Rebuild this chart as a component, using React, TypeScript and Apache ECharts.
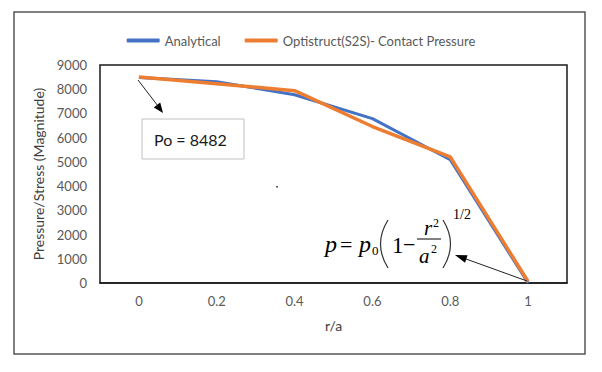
import React, { useEffect, useRef } from "react";
import * as echarts from "echarts";

const categories = ["0", "0.2", "0.4", "0.6", "0.8", "1"];
const analytical = [8482, 8311, 7774, 6786, 5089, 0];
const optistruct = [8500, 8230, 7940, 6460, 5210, 60];
const seriesNames = ["Analytical", "Optistruct(S2S)- Contact Pressure"];
const yTicks = { min: 0, max: 9000, interval: 1000 };
const poLabel = "Po = 8482";

const FONT = "Lato";
const SERIF = "Liberation Serif";

export default function App() {
  const ref = useRef<HTMLDivElement>(null);
  useEffect(() => {
    if (!ref.current) return;
    const chart = echarts.init(ref.current, null, { renderer: "svg" });
    const ink = "#000";
    const fx = (t: string, x: number, y: number, size: number, italic = true) => ({
      type: "text",
      x,
      y,
      style: {
        text: t,
        fontFamily: SERIF,
        fontSize: size,
        fontStyle: italic ? "italic" : "normal",
        fill: ink,
        align: "left",
        verticalAlign: "middle",
      },
      z: 100,
    });
    chart.setOption({
      animation: false,
      backgroundColor: "#fff",
      color: ["#4472C4", "#ED7D31"],
      legend: {
        data: seriesNames,
        top: 29,
        left: "center",
        itemWidth: 33,
        itemHeight: 4,
        itemGap: 24,
        icon: "roundRect",
        textStyle: { fontFamily: FONT, fontSize: 13, color: "#595959" },
      },
      grid: {
        left: 100,
        top: 65,
        right: 35,
        bottom: 89,
        show: true,
        borderColor: "#1a1a1a",
        borderWidth: 1.5,
        containLabel: false,
      },
      xAxis: {
        type: "category",
        data: categories,
        boundaryGap: true,
        name: "r/a",
        nameLocation: "middle",
        nameGap: 35,
        nameTextStyle: { fontFamily: FONT, fontSize: 14, color: "#404040" },
        axisLine: { show: true, lineStyle: { color: "#1a1a1a", width: 1.5 } },
        axisTick: { show: false },
        axisLabel: { fontFamily: FONT, fontSize: 13, color: "#595959", margin: 11 },
        splitLine: { show: false },
      },
      yAxis: {
        type: "value",
        min: yTicks.min,
        max: yTicks.max,
        interval: yTicks.interval,
        name: "Pressure/Stress (Magnitude)",
        nameLocation: "middle",
        nameGap: 54,
        nameTextStyle: { fontFamily: FONT, fontSize: 14, color: "#404040" },
        axisLine: { show: false },
        axisTick: { show: false },
        axisLabel: {
          fontFamily: FONT,
          fontSize: 13,
          color: "#595959",
          margin: 13,
          formatter: (v: number) => String(v),
        },
        splitLine: { show: false },
      },
      series: [
        {
          name: seriesNames[0],
          type: "line",
          data: analytical,
          showSymbol: false,
          symbol: "none",
          lineStyle: { width: 3, color: "#4472C4" },
          z: 2,
        },
        {
          name: seriesNames[1],
          type: "line",
          data: optistruct,
          showSymbol: false,
          symbol: "none",
          lineStyle: { width: 3.5, color: "#ED7D31" },
          z: 3,
        },
      ],
      graphic: [
        {
          type: "rect",
          shape: { x: 14, y: 12, width: 571, height: 342 },
          style: { fill: "none", stroke: "#555", lineWidth: 1.5 },
          z: 0,
          silent: true,
        },
        // Po box
        {
          type: "rect",
          shape: { x: 142, y: 119, width: 102, height: 40 },
          style: { fill: "#fff", stroke: "#c0c0c0", lineWidth: 1 },
          z: 90,
        },
        {
          type: "text",
          x: 154,
          y: 139,
          style: {
            text: poLabel,
            fontFamily: FONT,
            fontSize: 16,
            fill: "#1a1a1a",
            align: "left",
            verticalAlign: "middle",
          },
          z: 91,
        },
        // arrow 1
        {
          type: "line",
          shape: { x1: 138, y1: 80, x2: 158, y2: 106 },
          style: { stroke: "#222", lineWidth: 1 },
          z: 92,
        },
        {
          type: "polygon",
          shape: { points: [[163, 113], [153.8, 107.4], [160.2, 102.6]] },
          style: { fill: "#000" },
          z: 92,
        },
        // arrow 2
        {
          type: "line",
          shape: { x1: 527, y1: 281, x2: 466, y2: 259 },
          style: { stroke: "#222", lineWidth: 1 },
          z: 92,
        },
        {
          type: "polygon",
          shape: { points: [[455, 255], [467.6, 255.2], [465, 262.8]] },
          style: { fill: "#000" },
          z: 92,
        },
        // stray dot
        {
          type: "rect",
          shape: { x: 276, y: 186, width: 2, height: 1.5 },
          style: { fill: "#555" },
          z: 92,
        },
        // formula
        fx("p", 325, 244, 24),
        fx("=", 340, 244, 22, false),
        fx("p", 359, 244, 24),
        fx("0", 372, 250, 13, false),
        {
          type: "bezierCurve",
          shape: { x1: 388, y1: 220, cpx1: 378, cpy1: 236, cpx2: 378, cpy2: 252, x2: 388, y2: 268 },
          style: { stroke: "#333", lineWidth: 1.2, fill: "none" },
          z: 100,
        },
        fx("1", 392, 245, 23, false),
        fx("\u2212", 403, 244, 22, false),
        {
          type: "line",
          shape: { x1: 417, y1: 239, x2: 441, y2: 239 },
          style: { stroke: ink, lineWidth: 1 },
          z: 100,
        },
        fx("r", 424, 228, 21),
        fx("2", 433, 223, 12, false),
        fx("a", 419, 256, 21),
        fx("2", 431, 249, 12, false),
        {
          type: "bezierCurve",
          shape: { x1: 443, y1: 220, cpx1: 453, cpy1: 236, cpx2: 453, cpy2: 252, x2: 443, y2: 268 },
          style: { stroke: "#333", lineWidth: 1.2, fill: "none" },
          z: 100,
        },
        fx("1/2", 453, 214, 14, false),
      ],
    });
    return () => chart.dispose();
  }, []);
  return (
    <div
      ref={ref}
      style={{ position: "fixed", left: 0, top: 0, width: 602, height: 372, background: "#fff" }}
    />
  );
}
